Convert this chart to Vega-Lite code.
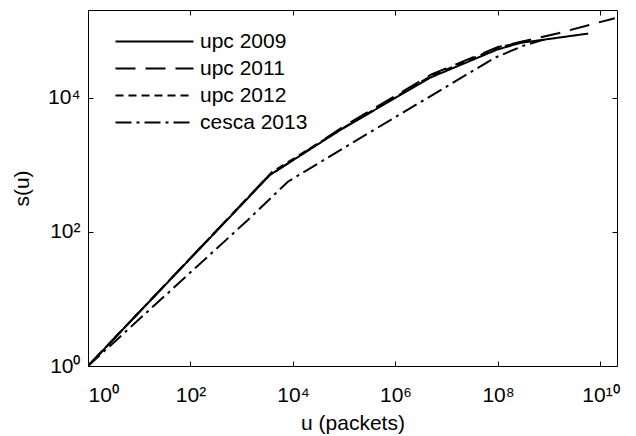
{
  "$schema": "https://vega.github.io/schema/vega-lite/v6.json",
  "width": 529,
  "height": 356,
  "autosize": "none",
  "padding": {"left": 88, "top": 10, "right": 19, "bottom": 70},
  "background": "white",
  "config": {
    "font": "Liberation Sans",
    "view": {"stroke": "black", "strokeWidth": 1},
    "axis": {
      "domain": false,
      "grid": false,
      "tickColor": "black",
      "tickSize": -5,
      "tickWidth": 1,
      "labelColor": "black",
      "labelFontSize": 21,
      "titleColor": "black",
      "titleFontSize": 21,
      "titleFontWeight": "normal"
    }
  },
  "data": {
    "values": [
      {"series": "upc 2009", "u": 1, "s": 1},
      {"series": "upc 2009", "u": 3548, "s": 708},
      {"series": "upc 2009", "u": 83176, "s": 3311},
      {"series": "upc 2009", "u": 4677000, "s": 19953},
      {"series": "upc 2009", "u": 95500000, "s": 52481},
      {"series": "upc 2009", "u": 269000000, "s": 66069},
      {"series": "upc 2009", "u": 5754000000, "s": 91201},
      {"series": "upc 2011", "u": 1, "s": 1},
      {"series": "upc 2011", "u": 3162, "s": 661},
      {"series": "upc 2011", "u": 100000, "s": 3802},
      {"series": "upc 2011", "u": 5010000, "s": 22387},
      {"series": "upc 2011", "u": 100000000, "s": 57544},
      {"series": "upc 2011", "u": 316000000, "s": 70000},
      {"series": "upc 2011", "u": 1585000000, "s": 93325},
      {"series": "upc 2011", "u": 19050000000, "s": 154882},
      {"series": "upc 2012", "u": 1, "s": 1},
      {"series": "upc 2012", "u": 3981, "s": 794},
      {"series": "upc 2012", "u": 100000, "s": 3631},
      {"series": "upc 2012", "u": 5010000, "s": 21380},
      {"series": "upc 2012", "u": 100000000, "s": 56234},
      {"series": "upc 2012", "u": 398000000, "s": 72444},
      {"series": "cesca 2013", "u": 1, "s": 1},
      {"series": "cesca 2013", "u": 1318, "s": 151},
      {"series": "cesca 2013", "u": 7943, "s": 562},
      {"series": "cesca 2013", "u": 204174, "s": 2512},
      {"series": "cesca 2013", "u": 87100000, "s": 39811},
      {"series": "cesca 2013", "u": 316000000, "s": 60256},
      {"series": "cesca 2013", "u": 794000000, "s": 74131}
    ]
  },
  "layer": [
    {
      "mark": {"type": "line", "color": "black", "strokeWidth": 2, "clip": true},
      "encoding": {
        "x": {
          "field": "u", "type": "quantitative",
          "scale": {"type": "log", "domain": [1, 21000000000], "nice": false},
          "axis": {
            "orient": "bottom",
            "values": [1, 100, 10000, 1000000, 100000000, 10000000000],
            "labelExpr": "datum.value == 1 ? '10⁰' : datum.value == 100 ? '10²' : datum.value == 10000 ? '10⁴' : datum.value == 1000000 ? '10⁶' : datum.value == 100000000 ? '10⁸' : '10¹⁰'",
            "labelPadding": 23,
            "title": "u (packets)",
            "titleY": 63,
            "titleBaseline": "alphabetic"
          }
        },
        "y": {
          "field": "s", "type": "quantitative",
          "scale": {"type": "log", "domain": [1, 205000], "nice": false},
          "axis": {
            "orient": "left",
            "values": [1, 100, 10000],
            "labelExpr": "datum.value == 1 ? '10⁰' : datum.value == 100 ? '10²' : '10⁴'",
            "labelPadding": 13,
            "title": "s(u)",
            "titleX": -60,
            "titleBaseline": "alphabetic"
          }
        },
        "strokeDash": {
          "field": "series", "type": "nominal",
          "scale": {
            "domain": ["upc 2009", "upc 2011", "upc 2012", "cesca 2013"],
            "range": [[1, 0], [20, 10], [8, 5], [16, 5, 3, 5]]
          },
          "legend": {
            "title": null,
            "orient": "none",
            "legendX": 56,
            "legendY": 21,
            "padding": 0,
            "symbolType": "M-6,0H6",
            "symbolSize": 169,
            "symbolStrokeWidth": 2,
            "symbolStrokeColor": "black",
            "symbolFillColor": "transparent",
            "labelFontSize": 21,
            "labelColor": "black",
            "labelOffset": 35,
            "rowPadding": 5
          }
        }
      }
    },
    {
      "mark": {"type": "line", "opacity": 0},
      "encoding": {
        "x": {
          "field": "u", "type": "quantitative",
          "axis": {"orient": "top", "values": [1, 100, 10000, 1000000, 100000000, 10000000000], "labels": false, "title": null}
        },
        "y": {
          "field": "s", "type": "quantitative",
          "axis": {"orient": "right", "values": [1, 100, 10000], "labels": false, "title": null}
        },
        "detail": {"field": "series"}
      }
    }
  ],
  "resolve": {"axis": {"x": "independent", "y": "independent"}}
}
